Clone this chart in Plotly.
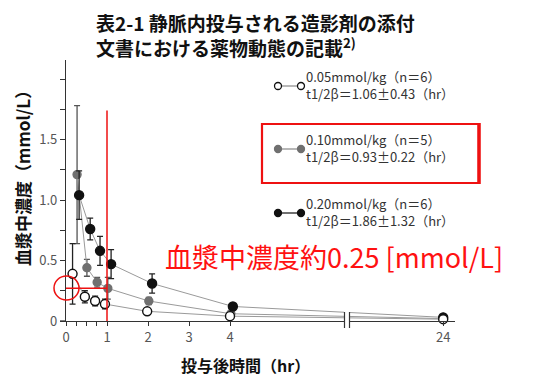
import plotly.graph_objects as go

# ---------------- data ----------------
# time after administration (hr); points are slightly offset in the original to avoid overlap
t_005 = [0.16, 0.46, 0.71, 0.95, 1.98, 4.0, 24]
y_005 = [0.39, 0.20, 0.165, 0.14, 0.08, 0.04, 0.015]
e_005 = [0.25, 0.05, 0.04, 0.04, 0.02, 0.01, 0.005]

t_010 = [0.27, 0.51, 0.76, 1.02, 2.02, 4.02, 24]
y_010 = [1.21, 0.44, 0.32, 0.27, 0.165, 0.06, 0.02]
e_010 = [0.57, 0.07, 0.04, 0.09, 0.03, 0.01, 0.005]

t_020 = [0.32, 0.59, 0.83, 1.10, 2.10, 4.07, 24]
y_020 = [1.04, 0.76, 0.58, 0.47, 0.31, 0.12, 0.03]
e_020 = [0.20, 0.09, 0.12, 0.12, 0.08, 0.02, 0.01]

series_names = ["0.05mmol/kg（n＝6）", "0.10mmol/kg（n＝5）", "0.20mmol/kg（n＝6）"]
half_lives = ["t1/2β＝1.06±0.43（hr）", "t1/2β＝0.93±0.22（hr）", "t1/2β＝1.86±1.32（hr）"]

x_tick_hours = [0, 0.25, 0.5, 0.75, 1, 2, 3, 4, 24]
x_tick_text = ["0", "", "", "", "1", "2", "3", "4", "24"]
y_tick_vals = [0, 0.25, 0.5, 0.75, 1.0, 1.25, 1.5, 1.75, 2.0]
y_tick_text = ["0", "", "0.5", "", "1.0", "", "1.5", "", ""]

marked_conc = 0.27   # highlighted concentration at 1 hr
marked_time = 1.0

# ---------------- broken axis mapping ----------------
POS_24 = 9.2      # display position of 24 hr after the axis break


def ax(t):
    return t if t <= 4.5 else POS_24


def axl(ts):
    return [ax(v) for v in ts]


FONT = "Noto Sans CJK JP"
W, H = 533, 378
L, R, T, B = 66, 78, 60, 57
PW, PH = W - L - R, H - T - B


def px(x):
    return (x - L) / PW


def py(y):
    return (H - B - y) / PH


fig = go.Figure()

styles = [
    dict(fill="white", line="#111", err="#222", size=9),
    dict(fill="#707070", line="#707070", err="#555", size=8),
    dict(fill="#111", line="#111", err="#222", size=9),
]
data = [(t_010, y_010, e_010, styles[1]), (t_020, y_020, e_020, styles[2]), (t_005, y_005, e_005, styles[0])]
for ts, ys, es, st in data:
    fig.add_trace(go.Scatter(
        x=axl(ts), y=ys, mode="lines+markers",
        line=dict(color="#9a9a9a", width=1),
        marker=dict(size=st["size"], color=st["fill"], line=dict(color=st["line"], width=1.4)),
        error_y=dict(type="data", array=es, visible=True, color=st["err"], thickness=1.3, width=3),
        showlegend=False, cliponaxis=False, hoverinfo="skip",
    ))

shapes = []
annotations = []

# x-axis extension left of the y axis
shapes.append(dict(type="line", xref="paper", yref="paper", x0=px(60), x1=px(66), y0=0, y1=0,
                   line=dict(color="#333", width=1.3), layer="above"))

# axis break marks
shapes.append(dict(type="rect", xref="paper", yref="paper", x0=px(344), x1=px(350), y0=py(329), y1=py(311),
                   fillcolor="white", line=dict(width=0), layer="above"))
for xb in (344.5, 349.5):
    shapes.append(dict(type="line", xref="paper", yref="paper", x0=px(xb), x1=px(xb), y0=py(328), y1=py(312),
                       line=dict(color="#333", width=1.2), layer="above"))

# red highlight: vertical line at 1 hr, horizontal at ~0.27, circle on the y axis
shapes.append(dict(type="line", xref="x", yref="y", x0=marked_time, x1=marked_time, y0=0, y1=1.74,
                   line=dict(color="#ee1111", width=1.5), layer="above"))
shapes.append(dict(type="line", xref="x", yref="y", x0=0, x1=marked_time, y0=marked_conc, y1=marked_conc,
                   line=dict(color="#ee1111", width=1.5), layer="above"))
shapes.append(dict(type="circle", xref="paper", yref="paper", x0=px(54), x1=px(79), y0=py(300), y1=py(276),
                   line=dict(color="#ee1111", width=1.5), layer="above"))

# red rectangle around middle legend entry
shapes.append(dict(type="rect", xref="paper", yref="paper", x0=px(262), x1=px(479), y0=py(183), y1=py(124),
                   line=dict(color="#ee1111", width=2.2), layer="above"))
shapes.append(dict(type="line", xref="paper", yref="paper", x0=px(479), x1=px(479), y0=py(184), y1=py(123),
                   line=dict(color="#ee1111", width=3.5), layer="above"))

# legend (manual)
leg_y = [86, 149, 213]
leg_st = [styles[0], styles[1], styles[2]]
for i in range(3):
    yy = leg_y[i]
    st = leg_st[i]
    shapes.append(dict(type="line", xref="paper", yref="paper", x0=px(278), x1=px(301), y0=py(yy), y1=py(yy),
                       line=dict(color="#888" if i < 2 else "#111", width=1.2), layer="above"))
    for cx in (278, 301):
        shapes.append(dict(type="circle", xref="paper", yref="paper", x0=px(cx - 3.5), x1=px(cx + 3.5),
                           y0=py(yy + 3.5), y1=py(yy - 3.5), fillcolor=st["fill"],
                           line=dict(color=st["line"], width=1.3), layer="above"))
    annotations.append(dict(xref="paper", yref="paper", x=px(304), y=py(yy - 1), xanchor="left", yanchor="middle",
                            text=series_names[i] + "<br>" + half_lives[i], showarrow=False, align="left",
                            font=dict(family=FONT, size=13, color="#333")))

# title
annotations.append(dict(xref="paper", yref="paper", x=px(94), y=py(35), xanchor="left", yanchor="middle",
                        text="<b>表2-1 静脈内投与される造影剤の添付<br>文書における薬物動態の記載<sup>2)</sup></b>",
                        showarrow=False, align="left",
                        font=dict(family=FONT, size=19, color="#111")))
# red callout text
annotations.append(dict(xref="paper", yref="paper", x=px(163), y=py(256), xanchor="left", yanchor="middle",
                        text="血漿中濃度約0.25 [mmol/L]", showarrow=False,
                        font=dict(family=FONT, size=27, color="#ff1111")))
# axis titles
annotations.append(dict(xref="paper", yref="paper", x=px(22), y=py(174), xanchor="center", yanchor="middle",
                        text="<b>血漿中濃度（mmol/L）</b>", textangle=-90, showarrow=False,
                        font=dict(family=FONT, size=17, color="#111")))
annotations.append(dict(xref="paper", yref="paper", x=px(245), y=py(365), xanchor="center", yanchor="middle",
                        text="<b>投与後時間（hr）</b>", showarrow=False,
                        font=dict(family=FONT, size=16, color="#111")))

fig.update_layout(
    width=W, height=H,
    margin=dict(l=L, r=R, t=T, b=B),
    paper_bgcolor="white", plot_bgcolor="white",
    shapes=shapes, annotations=annotations,
    xaxis=dict(range=[0, PW / 41.0], showgrid=False, zeroline=False, showline=True, linecolor="#333", linewidth=1.3,
               ticks="outside", ticklen=4, tickcolor="#333", tickvals=axl(x_tick_hours), ticktext=x_tick_text,
               tickfont=dict(family=FONT, size=13, color="#555")),
    yaxis=dict(range=[0, PH / 121.0], showgrid=False, zeroline=False, showline=True, linecolor="#333", linewidth=1.3,
               ticks="outside", ticklen=5, tickcolor="#333", tickvals=y_tick_vals, ticktext=y_tick_text,
               tickfont=dict(family=FONT, size=13, color="#555")),
)

fig.write_html("out.html", config={"displayModeBar": False},
               post_script="document.body.style.margin='0';")
